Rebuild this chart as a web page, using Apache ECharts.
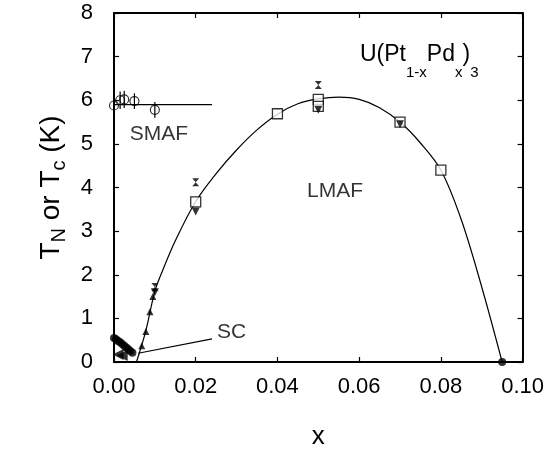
<!DOCTYPE html>
<html><head><meta charset="utf-8">
<script src="https://cdn.jsdelivr.net/npm/echarts@6/dist/echarts.min.js"></script>
<style>html,body{margin:0;padding:0;background:#fff}#c{width:547px;height:457px}</style>
</head><body><div id="c"></div>
<script>
// Data
const xTicks = [0, 0.02, 0.04, 0.06, 0.08, 0.10];
const yTicks = [0, 1, 2, 3, 4, 5, 6, 7, 8];
const curveX = [0.0055, 0.0078, 0.01, 0.012, 0.015, 0.02, 0.025, 0.03, 0.035, 0.04, 0.045, 0.05, 0.055, 0.06, 0.065, 0.07, 0.075, 0.08, 0.085, 0.09, 0.095];
const curveY = [0, 0.72, 1.62, 2.12, 2.78, 3.68, 4.32, 4.86, 5.32, 5.68, 5.92, 6.03, 6.07, 6.02, 5.83, 5.5, 5.02, 4.4, 3.26, 1.72, 0];
const smafX = [0, 0.0015, 0.0025, 0.005, 0.01];
const smafY = [5.88, 6.0, 6.02, 5.98, 5.78];
const smafErr = [0.18, 0.2, 0.2, 0.18, 0.18];
const smafLineX = [0, 0.024];
const smafLineY = [5.9, 5.9];
const squareX = [0.02, 0.04, 0.05, 0.05, 0.07, 0.08];
const squareY = [3.67, 5.69, 6.02, 5.86, 5.5, 4.4];
const downTriX = [0.01, 0.02, 0.05, 0.07];
const downTriY = [1.6, 3.45, 5.78, 5.45];
const upTriX = [0.0068, 0.0078, 0.0088, 0.0095];
const upTriY = [0.37, 0.7, 1.15, 1.5];
const bowX = [0.01, 0.02, 0.05];
const bowY = [1.72, 4.12, 6.35];
const scCircX = [0, 0.0005, 0.001, 0.0015, 0.002, 0.0025, 0.003, 0.0035, 0.004, 0.0045];
const scCircY = [0.55, 0.52, 0.48, 0.45, 0.41, 0.37, 0.33, 0.29, 0.25, 0.21];
const scTriX = [0.001, 0.002];
const scTriY = [0.17, 0.15];
const endDotX = [0.095];
const endDotY = [0];
const scPointerX = [0.0059, 0.024];
const scPointerY = [0.2, 0.53];
const labelText = ['SMAF', 'LMAF', 'SC'];
const labelX = [0.011, 0.0541, 0.0288];
const labelY = [5.23, 3.92, 0.68];

const zip = (a, b) => a.map((v, i) => [v, b[i]]);
const FONT = 'Liberation Sans, Arial, sans-serif';
const chart = echarts.init(document.getElementById('c'));
const axisCommon = {
  min: 0, axisLine: {show: true, onZero: false, lineStyle: {color: '#000', width: 2}},
  axisTick: {show: true, inside: true, length: 5, lineStyle: {color: '#000', width: 1.2}},
  splitLine: {show: false}
};
chart.setOption({
  animation: false,
  backgroundColor: '#fff',
  grid: {left: 114, right: 23, top: 13, bottom: 95},
  xAxis: [
    Object.assign({}, axisCommon, {
      type: 'value', max: 0.1, interval: 0.02, position: 'bottom',
      name: 'x', nameLocation: 'middle', nameGap: 62,
      nameTextStyle: {fontFamily: FONT, fontSize: 26, color: '#000'},
      axisLabel: {fontFamily: FONT, fontSize: 22, color: '#000', margin: 14,
        formatter: v => v.toFixed(2)}
    }),
    Object.assign({}, axisCommon, {
      type: 'value', max: 0.1, interval: 0.02, position: 'top', axisLabel: {show: false}
    })
  ],
  yAxis: [
    Object.assign({}, axisCommon, {
      type: 'value', max: 8, interval: 1, position: 'left',
      name: 'T{s|N} or T{s|c} (K)', nameLocation: 'middle', nameGap: 36, nameRotate: 90,
      nameTextStyle: {fontFamily: FONT, fontSize: 28, color: '#000',
        rich: {s: {fontFamily: FONT, fontSize: 20, color: '#000', padding: [18, 0, 0, 0]}}},
      axisLabel: {fontFamily: FONT, fontSize: 22, color: '#000', margin: 21}
    }),
    Object.assign({}, axisCommon, {
      type: 'value', max: 8, interval: 1, position: 'right', axisLabel: {show: false}
    })
  ],
  graphic: [{
    type: 'text', left: 360, top: 43,
    style: {
      text: '{m|U(Pt}{s|1-x}{m|Pd}{s|x}{m|)}{s|3}',
      fill: '#000',
      rich: {
        m: {fontFamily: FONT, fontSize: 23, fill: '#000', verticalAlign: 'top', lineHeight: 26},
        s: {fontFamily: FONT, fontSize: 15, fill: '#000', verticalAlign: 'top', lineHeight: 18, padding: [22, 0, 0, 0]}
      }
    }
  }],
  series: [
    {type: 'line', data: zip(curveX, curveY), smooth: 0.35, showSymbol: false,
      lineStyle: {color: '#000', width: 1.2}, z: 2},
    {type: 'line', data: zip(smafLineX, smafLineY), showSymbol: false,
      lineStyle: {color: '#000', width: 1.2}, z: 2},
    {type: 'line', data: zip(scPointerX, scPointerY), showSymbol: false,
      lineStyle: {color: '#000', width: 1.2}, z: 2},
    {type: 'custom', data: smafX.map((x, i) => [x, smafY[i], smafErr[i]]), z: 3,
      renderItem: (params, api) => {
        const p1 = api.coord([api.value(0), api.value(1) - api.value(2)]);
        const p2 = api.coord([api.value(0), api.value(1) + api.value(2)]);
        return {type: 'line', shape: {x1: p1[0], y1: p1[1], x2: p2[0], y2: p2[1]},
          style: {stroke: '#000', lineWidth: 1.2}};
      }},
    {type: 'scatter', data: zip(smafX, smafY), symbol: 'circle', symbolSize: 9,
      itemStyle: {color: 'rgba(0,0,0,0)', borderColor: '#000', borderWidth: 1.2}, z: 4},
    {type: 'scatter', data: zip(squareX, squareY), symbol: 'rect', symbolSize: 10,
      itemStyle: {color: '#fff', borderColor: '#000', borderWidth: 1.3}, z: 4},
    {type: 'scatter', data: zip(downTriX, downTriY), symbol: 'triangle', symbolRotate: 180, symbolSize: 8,
      itemStyle: {color: '#000'}, z: 5},
    {type: 'scatter', data: zip(upTriX, upTriY), symbol: 'triangle', symbolSize: 7,
      itemStyle: {color: '#000'}, z: 5},
    {type: 'scatter', data: zip(bowX, bowY), symbol: 'path://M0,0L10,0L5,5L10,10L0,10L5,5Z', symbolSize: [7, 8],
      itemStyle: {color: '#000'}, z: 5},
    {type: 'scatter', data: zip(scCircX, scCircY), symbol: 'circle', symbolSize: 8,
      itemStyle: {color: '#000'}, z: 5},
    {type: 'scatter', data: zip(scTriX, scTriY), symbol: 'triangle', symbolRotate: 90, symbolSize: 11,
      itemStyle: {color: '#000'}, z: 5},
    {type: 'scatter', data: zip(endDotX, endDotY), symbol: 'circle', symbolSize: 8,
      itemStyle: {color: '#000'}, z: 5},
    {type: 'scatter', data: labelX.map((x, i) => [x, labelY[i], labelText[i]]), symbolSize: 0, z: 6,
      label: {show: true, position: 'inside', formatter: p => p.value[2],
        fontFamily: FONT, fontSize: 21, color: '#000'}}
  ]
});
</script></body></html>
